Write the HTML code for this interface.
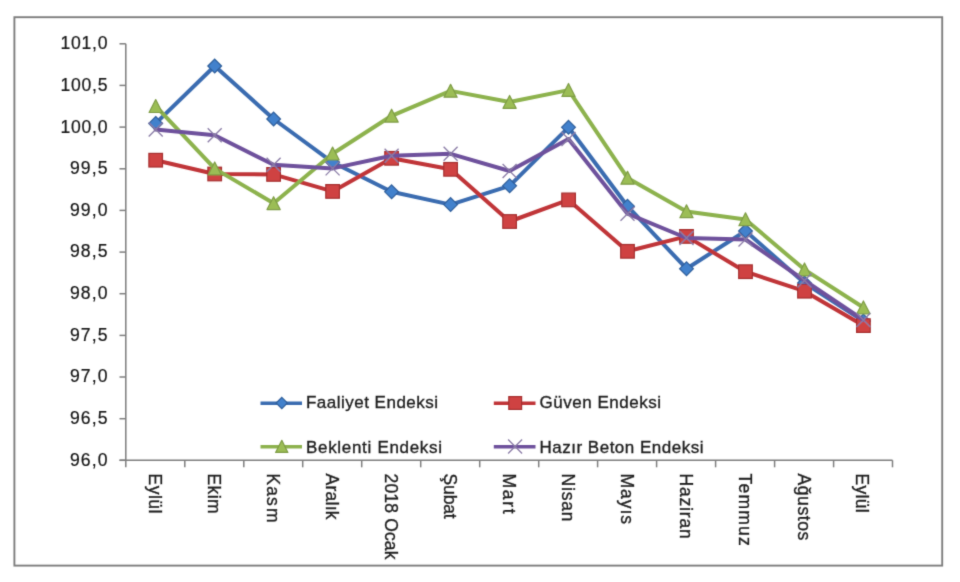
<!DOCTYPE html>
<html><head><meta charset="utf-8">
<style>
html,body{margin:0;padding:0;background:#fff;}
body{width:960px;height:582px;overflow:hidden;position:relative;}
svg{position:absolute;left:0;top:0;}
text{font-family:"Liberation Sans",sans-serif;fill:#1f1f1f;stroke:#1f1f1f;stroke-width:0.35;}
.yl{font-size:17.6px;fill:#141414;stroke:#141414;stroke-width:0.2;}
.xl{font-size:17.5px;}
.lg{font-size:17px;}
</style></head><body>
<svg width="960" height="582" viewBox="0 0 960 582">
<defs><filter id="bl" filterUnits="userSpaceOnUse" x="0" y="0" width="960" height="582"><feConvolveMatrix order="3" kernelMatrix="0.0169 0.0962 0.0169 0.0962 0.5476 0.0962 0.0169 0.0962 0.0169" edgeMode="none"/></filter></defs>
<g filter="url(#bl)">
<rect x="14.4" y="17.2" width="927.8" height="548.4" fill="none" stroke="#7e7e7e" stroke-width="1.9"/>
<line x1="125.8" y1="43.8" x2="125.8" y2="460.3" stroke="#7e7e7e" stroke-width="1.5"/>
<line x1="119.5" y1="460.3" x2="892.54" y2="460.3" stroke="#7e7e7e" stroke-width="1.5"/>
<line x1="119.5" y1="43.8" x2="125.8" y2="43.8" stroke="#7e7e7e" stroke-width="1.5"/>
<line x1="119.5" y1="85.4" x2="125.8" y2="85.4" stroke="#7e7e7e" stroke-width="1.5"/>
<line x1="119.5" y1="127.1" x2="125.8" y2="127.1" stroke="#7e7e7e" stroke-width="1.5"/>
<line x1="119.5" y1="168.8" x2="125.8" y2="168.8" stroke="#7e7e7e" stroke-width="1.5"/>
<line x1="119.5" y1="210.4" x2="125.8" y2="210.4" stroke="#7e7e7e" stroke-width="1.5"/>
<line x1="119.5" y1="252.1" x2="125.8" y2="252.1" stroke="#7e7e7e" stroke-width="1.5"/>
<line x1="119.5" y1="293.7" x2="125.8" y2="293.7" stroke="#7e7e7e" stroke-width="1.5"/>
<line x1="119.5" y1="335.4" x2="125.8" y2="335.4" stroke="#7e7e7e" stroke-width="1.5"/>
<line x1="119.5" y1="377.0" x2="125.8" y2="377.0" stroke="#7e7e7e" stroke-width="1.5"/>
<line x1="119.5" y1="418.7" x2="125.8" y2="418.7" stroke="#7e7e7e" stroke-width="1.5"/>
<line x1="119.5" y1="460.3" x2="125.8" y2="460.3" stroke="#7e7e7e" stroke-width="1.5"/>
<line x1="125.8" y1="460.3" x2="125.8" y2="467.3" stroke="#7e7e7e" stroke-width="1.5"/>
<line x1="184.8" y1="460.3" x2="184.8" y2="467.3" stroke="#7e7e7e" stroke-width="1.5"/>
<line x1="243.8" y1="460.3" x2="243.8" y2="467.3" stroke="#7e7e7e" stroke-width="1.5"/>
<line x1="302.7" y1="460.3" x2="302.7" y2="467.3" stroke="#7e7e7e" stroke-width="1.5"/>
<line x1="361.7" y1="460.3" x2="361.7" y2="467.3" stroke="#7e7e7e" stroke-width="1.5"/>
<line x1="420.7" y1="460.3" x2="420.7" y2="467.3" stroke="#7e7e7e" stroke-width="1.5"/>
<line x1="479.7" y1="460.3" x2="479.7" y2="467.3" stroke="#7e7e7e" stroke-width="1.5"/>
<line x1="538.7" y1="460.3" x2="538.7" y2="467.3" stroke="#7e7e7e" stroke-width="1.5"/>
<line x1="597.6" y1="460.3" x2="597.6" y2="467.3" stroke="#7e7e7e" stroke-width="1.5"/>
<line x1="656.6" y1="460.3" x2="656.6" y2="467.3" stroke="#7e7e7e" stroke-width="1.5"/>
<line x1="715.6" y1="460.3" x2="715.6" y2="467.3" stroke="#7e7e7e" stroke-width="1.5"/>
<line x1="774.6" y1="460.3" x2="774.6" y2="467.3" stroke="#7e7e7e" stroke-width="1.5"/>
<line x1="833.6" y1="460.3" x2="833.6" y2="467.3" stroke="#7e7e7e" stroke-width="1.5"/>
<line x1="892.5" y1="460.3" x2="892.5" y2="467.3" stroke="#7e7e7e" stroke-width="1.5"/>
<text class="yl" x="60.5" y="49.2" textLength="47" lengthAdjust="spacing">101,0</text>
<text class="yl" x="60.5" y="90.8" textLength="47" lengthAdjust="spacing">100,5</text>
<text class="yl" x="60.5" y="132.5" textLength="47" lengthAdjust="spacing">100,0</text>
<text class="yl" x="70.0" y="174.2" textLength="37.5" lengthAdjust="spacing">99,5</text>
<text class="yl" x="70.0" y="215.8" textLength="37.5" lengthAdjust="spacing">99,0</text>
<text class="yl" x="70.0" y="257.4" textLength="37.5" lengthAdjust="spacing">98,5</text>
<text class="yl" x="70.0" y="299.1" textLength="37.5" lengthAdjust="spacing">98,0</text>
<text class="yl" x="70.0" y="340.8" textLength="37.5" lengthAdjust="spacing">97,5</text>
<text class="yl" x="70.0" y="382.4" textLength="37.5" lengthAdjust="spacing">97,0</text>
<text class="yl" x="70.0" y="424.1" textLength="37.5" lengthAdjust="spacing">96,5</text>
<text class="yl" x="70.0" y="465.7" textLength="37.5" lengthAdjust="spacing">96,0</text>
<text class="xl" x="0" y="0" textLength="40.0" lengthAdjust="spacing" transform="translate(148.7,473.5) rotate(90)">Eylül</text>
<text class="xl" x="0" y="0" textLength="40.0" lengthAdjust="spacing" transform="translate(207.7,473.5) rotate(90)">Ekim</text>
<text class="xl" x="0" y="0" textLength="49.0" lengthAdjust="spacing" transform="translate(266.6,473.5) rotate(90)">Kas<tspan dx="1.2">m</tspan></text>
<text class="xl" x="0" y="0" textLength="46.0" lengthAdjust="spacing" transform="translate(325.6,473.5) rotate(90)">Aralık</text>
<text class="xl" x="0" y="0" textLength="86.0" lengthAdjust="spacing" transform="translate(384.6,473.5) rotate(90)">2018 Ocak</text>
<text class="xl" x="0" y="0" textLength="45.2" lengthAdjust="spacing" transform="translate(443.6,473.5) rotate(90)">Şubat</text>
<text class="xl" x="0" y="0" textLength="40.2" lengthAdjust="spacing" transform="translate(502.6,473.5) rotate(90)">Mart</text>
<text class="xl" x="0" y="0" textLength="48.0" lengthAdjust="spacing" transform="translate(561.5,473.5) rotate(90)">Nisan</text>
<text class="xl" x="0" y="0" textLength="50.6" lengthAdjust="spacing" transform="translate(620.5,473.5) rotate(90)">Mayıs</text>
<text class="xl" x="0" y="0" textLength="65.3" lengthAdjust="spacing" transform="translate(679.5,473.5) rotate(90)">Haziran</text>
<text class="xl" x="0" y="0" textLength="72.2" lengthAdjust="spacing" transform="translate(738.5,473.5) rotate(90)">Temmuz</text>
<text class="xl" x="0" y="0" textLength="66.8" lengthAdjust="spacing" transform="translate(797.5,473.5) rotate(90)">Ağustos</text>
<text class="xl" x="0" y="0" textLength="39.2" lengthAdjust="spacing" transform="translate(856.4,473.5) rotate(90)">Eylül</text>
<line x1="260.5" y1="403.3" x2="302" y2="403.3" stroke="#3a6cb0" stroke-width="3.4"/>
<path d="M281.8 397.4L287.4 403.0L281.8 408.6L276.1 403.0Z" fill="#4281cc" stroke="#2f5e9a" stroke-width="1.2"/>
<text class="lg" x="306" y="408.2" textLength="132.0" lengthAdjust="spacing">Faaliyet Endeksi</text>
<line x1="493.8" y1="403.3" x2="535.5" y2="403.3" stroke="#c03438" stroke-width="3.4"/>
<rect x="508.8" y="396.6" width="12.8" height="12.8" fill="#cf4343" stroke="#a52f2f" stroke-width="1.2"/>
<text class="lg" x="539.5" y="408.2" textLength="121.5" lengthAdjust="spacing">Güven Endeksi</text>
<line x1="260.5" y1="446.8" x2="302" y2="446.8" stroke="#8db24e" stroke-width="3.4"/>
<path d="M281.8 440.3L287.9 452.4L275.6 452.4Z" fill="#9bbd55" stroke="#7e9c45" stroke-width="1.2" stroke-linejoin="round"/>
<text class="lg" x="306" y="452.6" textLength="136.0" lengthAdjust="spacing">Beklenti Endeksi</text>
<line x1="493.8" y1="446.8" x2="535.5" y2="446.8" stroke="#6e519c" stroke-width="3.4"/>
<path d="M508.1 439.5L522.1 453.5M522.1 439.5L508.1 453.5" stroke="#8a7ca6" stroke-width="1.3" fill="none"/>
<text class="lg" x="539.5" y="452.6" textLength="164.0" lengthAdjust="spacing">Hazır Beton Endeksi</text>
<polyline points="155.7,123.4 214.7,66.0 273.6,119.0 332.6,162.3 391.6,191.8 450.6,204.6 509.6,185.8 568.5,127.3 627.5,206.2 686.5,268.7 745.5,231.0 804.5,283.0 863.4,321.0" fill="none" stroke="#3a6cb0" stroke-width="4.0" stroke-linejoin="round" stroke-linecap="round"/>
<path d="M155.7 116.5L162.6 123.4L155.7 130.3L148.8 123.4Z" fill="#4281cc" stroke="#2f5e9a" stroke-width="1.2"/>
<path d="M214.7 59.1L221.6 66.0L214.7 72.9L207.8 66.0Z" fill="#4281cc" stroke="#2f5e9a" stroke-width="1.2"/>
<path d="M273.6 112.1L280.5 119.0L273.6 125.9L266.8 119.0Z" fill="#4281cc" stroke="#2f5e9a" stroke-width="1.2"/>
<path d="M332.6 155.4L339.5 162.3L332.6 169.2L325.7 162.3Z" fill="#4281cc" stroke="#2f5e9a" stroke-width="1.2"/>
<path d="M391.6 184.9L398.5 191.8L391.6 198.7L384.7 191.8Z" fill="#4281cc" stroke="#2f5e9a" stroke-width="1.2"/>
<path d="M450.6 197.7L457.5 204.6L450.6 211.5L443.7 204.6Z" fill="#4281cc" stroke="#2f5e9a" stroke-width="1.2"/>
<path d="M509.6 178.9L516.5 185.8L509.6 192.7L502.7 185.8Z" fill="#4281cc" stroke="#2f5e9a" stroke-width="1.2"/>
<path d="M568.5 120.4L575.4 127.3L568.5 134.2L561.6 127.3Z" fill="#4281cc" stroke="#2f5e9a" stroke-width="1.2"/>
<path d="M627.5 199.3L634.4 206.2L627.5 213.1L620.6 206.2Z" fill="#4281cc" stroke="#2f5e9a" stroke-width="1.2"/>
<path d="M686.5 261.8L693.4 268.7L686.5 275.6L679.6 268.7Z" fill="#4281cc" stroke="#2f5e9a" stroke-width="1.2"/>
<path d="M745.5 224.1L752.4 231.0L745.5 237.9L738.6 231.0Z" fill="#4281cc" stroke="#2f5e9a" stroke-width="1.2"/>
<path d="M804.5 276.1L811.4 283.0L804.5 289.9L797.6 283.0Z" fill="#4281cc" stroke="#2f5e9a" stroke-width="1.2"/>
<path d="M863.4 314.1L870.3 321.0L863.4 327.9L856.5 321.0Z" fill="#4281cc" stroke="#2f5e9a" stroke-width="1.2"/>
<polyline points="155.7,160.2 214.7,174.0 273.6,174.4 332.6,191.4 391.6,158.3 450.6,169.3 509.6,221.5 568.5,199.9 627.5,251.3 686.5,236.4 745.5,271.7 804.5,291.2 863.4,325.6" fill="none" stroke="#c03438" stroke-width="4.0" stroke-linejoin="round" stroke-linecap="round"/>
<rect x="148.9" y="153.4" width="13.6" height="13.6" fill="#cf4343" stroke="#a52f2f" stroke-width="1.2"/>
<rect x="207.9" y="167.2" width="13.6" height="13.6" fill="#cf4343" stroke="#a52f2f" stroke-width="1.2"/>
<rect x="266.8" y="167.6" width="13.6" height="13.6" fill="#cf4343" stroke="#a52f2f" stroke-width="1.2"/>
<rect x="325.8" y="184.6" width="13.6" height="13.6" fill="#cf4343" stroke="#a52f2f" stroke-width="1.2"/>
<rect x="384.8" y="151.5" width="13.6" height="13.6" fill="#cf4343" stroke="#a52f2f" stroke-width="1.2"/>
<rect x="443.8" y="162.5" width="13.6" height="13.6" fill="#cf4343" stroke="#a52f2f" stroke-width="1.2"/>
<rect x="502.8" y="214.7" width="13.6" height="13.6" fill="#cf4343" stroke="#a52f2f" stroke-width="1.2"/>
<rect x="561.8" y="193.1" width="13.6" height="13.6" fill="#cf4343" stroke="#a52f2f" stroke-width="1.2"/>
<rect x="620.7" y="244.5" width="13.6" height="13.6" fill="#cf4343" stroke="#a52f2f" stroke-width="1.2"/>
<rect x="679.7" y="229.6" width="13.6" height="13.6" fill="#cf4343" stroke="#a52f2f" stroke-width="1.2"/>
<rect x="738.7" y="264.9" width="13.6" height="13.6" fill="#cf4343" stroke="#a52f2f" stroke-width="1.2"/>
<rect x="797.7" y="284.4" width="13.6" height="13.6" fill="#cf4343" stroke="#a52f2f" stroke-width="1.2"/>
<rect x="856.6" y="318.8" width="13.6" height="13.6" fill="#cf4343" stroke="#a52f2f" stroke-width="1.2"/>
<polyline points="155.7,106.2 214.7,168.6 273.6,203.3 332.6,153.7 391.6,115.8 450.6,90.9 509.6,102.0 568.5,90.1 627.5,177.9 686.5,211.4 745.5,219.4 804.5,269.6 863.4,307.5" fill="none" stroke="#8db24e" stroke-width="4.0" stroke-linejoin="round" stroke-linecap="round"/>
<path d="M155.7 99.6L162.3 112.5L149.1 112.5Z" fill="#9bbd55" stroke="#7e9c45" stroke-width="1.2" stroke-linejoin="round"/>
<path d="M214.7 162.0L221.3 174.9L208.1 174.9Z" fill="#9bbd55" stroke="#7e9c45" stroke-width="1.2" stroke-linejoin="round"/>
<path d="M273.6 196.7L280.2 209.6L267.0 209.6Z" fill="#9bbd55" stroke="#7e9c45" stroke-width="1.2" stroke-linejoin="round"/>
<path d="M332.6 147.1L339.2 160.0L326.0 160.0Z" fill="#9bbd55" stroke="#7e9c45" stroke-width="1.2" stroke-linejoin="round"/>
<path d="M391.6 109.2L398.2 122.1L385.0 122.1Z" fill="#9bbd55" stroke="#7e9c45" stroke-width="1.2" stroke-linejoin="round"/>
<path d="M450.6 84.3L457.2 97.2L444.0 97.2Z" fill="#9bbd55" stroke="#7e9c45" stroke-width="1.2" stroke-linejoin="round"/>
<path d="M509.6 95.4L516.2 108.3L503.0 108.3Z" fill="#9bbd55" stroke="#7e9c45" stroke-width="1.2" stroke-linejoin="round"/>
<path d="M568.5 83.5L575.1 96.4L561.9 96.4Z" fill="#9bbd55" stroke="#7e9c45" stroke-width="1.2" stroke-linejoin="round"/>
<path d="M627.5 171.3L634.1 184.2L620.9 184.2Z" fill="#9bbd55" stroke="#7e9c45" stroke-width="1.2" stroke-linejoin="round"/>
<path d="M686.5 204.8L693.1 217.7L679.9 217.7Z" fill="#9bbd55" stroke="#7e9c45" stroke-width="1.2" stroke-linejoin="round"/>
<path d="M745.5 212.8L752.1 225.7L738.9 225.7Z" fill="#9bbd55" stroke="#7e9c45" stroke-width="1.2" stroke-linejoin="round"/>
<path d="M804.5 263.0L811.1 275.9L797.9 275.9Z" fill="#9bbd55" stroke="#7e9c45" stroke-width="1.2" stroke-linejoin="round"/>
<path d="M863.4 300.9L870.0 313.8L856.8 313.8Z" fill="#9bbd55" stroke="#7e9c45" stroke-width="1.2" stroke-linejoin="round"/>
<polyline points="155.7,129.5 214.7,135.3 273.6,164.7 332.6,168.4 391.6,155.8 450.6,153.8 509.6,171.0 568.5,139.0 627.5,213.7 686.5,238.0 745.5,239.5 804.5,280.5 863.4,320.0" fill="none" stroke="#6e519c" stroke-width="4.0" stroke-linejoin="round" stroke-linecap="round"/>
<path d="M148.7 122.5L162.7 136.5M162.7 122.5L148.7 136.5" stroke="#8a7ca6" stroke-width="1.3" fill="none"/>
<path d="M207.7 128.3L221.7 142.3M221.7 128.3L207.7 142.3" stroke="#8a7ca6" stroke-width="1.3" fill="none"/>
<path d="M266.6 157.7L280.6 171.7M280.6 157.7L266.6 171.7" stroke="#8a7ca6" stroke-width="1.3" fill="none"/>
<path d="M325.6 161.4L339.6 175.4M339.6 161.4L325.6 175.4" stroke="#8a7ca6" stroke-width="1.3" fill="none"/>
<path d="M384.6 148.8L398.6 162.8M398.6 148.8L384.6 162.8" stroke="#8a7ca6" stroke-width="1.3" fill="none"/>
<path d="M443.6 146.8L457.6 160.8M457.6 146.8L443.6 160.8" stroke="#8a7ca6" stroke-width="1.3" fill="none"/>
<path d="M502.6 164.0L516.6 178.0M516.6 164.0L502.6 178.0" stroke="#8a7ca6" stroke-width="1.3" fill="none"/>
<path d="M561.5 132.0L575.5 146.0M575.5 132.0L561.5 146.0" stroke="#8a7ca6" stroke-width="1.3" fill="none"/>
<path d="M620.5 206.7L634.5 220.7M634.5 206.7L620.5 220.7" stroke="#8a7ca6" stroke-width="1.3" fill="none"/>
<path d="M679.5 231.0L693.5 245.0M693.5 231.0L679.5 245.0" stroke="#8a7ca6" stroke-width="1.3" fill="none"/>
<path d="M738.5 232.5L752.5 246.5M752.5 232.5L738.5 246.5" stroke="#8a7ca6" stroke-width="1.3" fill="none"/>
<path d="M797.5 273.5L811.5 287.5M811.5 273.5L797.5 287.5" stroke="#8a7ca6" stroke-width="1.3" fill="none"/>
<path d="M856.4 313.0L870.4 327.0M870.4 313.0L856.4 327.0" stroke="#8a7ca6" stroke-width="1.3" fill="none"/>
</g>
</svg>
</body></html>
